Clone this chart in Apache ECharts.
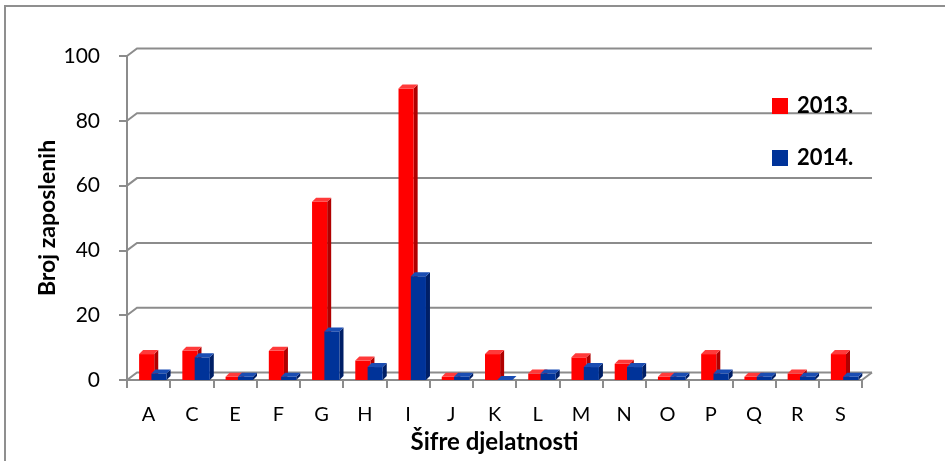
<!DOCTYPE html>
<html>
<head>
<meta charset="utf-8">
<script src="https://cdn.jsdelivr.net/npm/echarts@6/dist/echarts.min.js"></script>
<style>
  html, body { margin: 0; padding: 0; background: #fff; }
  #main { width: 945px; height: 461px; }
</style>
</head>
<body>
<div id="main"></div>
<script>
// šifre djelatnosti
const categories = ["A", "C", "E", "F", "G", "H", "I", "J", "K", "L", "M", "N", "O", "P", "Q", "R", "S"];
const values2013 = [8, 9, 1, 9, 55, 6, 90, 1, 8, 2, 7, 5, 1, 8, 1, 2, 8];
const values2014 = [2, 7, 1, 1, 15, 4, 32, 1, 0, 2, 4, 4, 1, 2, 1, 1, 1];
const yTicks = [0, 20, 40, 60, 80, 100];

const FONT = "Lato";
const GRAY = "#8c8c8c";
const DEPTH = 4; // pseudo 3d dubina stupca
const WALL_DX = 10, WALL_DY = 7.5;

// crta stupac s prednjom, bočnom i gornjom plohom
function bar3d(offset, widthF, colors) {
  return function (params, api) {
    const idx = api.value(0);
    const v = api.value(1);
    const base = api.coord([idx, 0]);
    const top = api.coord([idx, v]);
    const bw = api.size([1, 0])[0];
    const x = base[0] + offset * bw;
    const w = widthF * bw;
    const t = top[1], b = base[1];
    return {
      type: "group",
      children: [
        {
          type: "polygon",
          shape: { points: [[x + w, t], [x + w + DEPTH, t - DEPTH], [x + w + DEPTH, b - DEPTH], [x + w, b]] },
          style: { fill: colors[1] }
        },
        {
          type: "rect",
          shape: { x: x, y: t, width: w, height: b - t },
          style: { fill: colors[0] }
        },
        {
          type: "polygon",
          shape: { points: [[x, t], [x + DEPTH, t - DEPTH], [x + w + DEPTH, t - DEPTH], [x + w, t]] },
          style: { fill: colors[2] }
        }
      ]
    };
  };
}

// linije stražnjeg zida i poda
function wallLine(params, api) {
  const v = api.value(0);
  const bw = api.size([1, 0])[0];
  const left = api.coord([0, v])[0] - bw / 2;
  const right = api.coord([categories.length - 1, v])[0] + bw / 2;
  const y = api.coord([0, v])[1];
  const children = [{
    type: "polyline",
    shape: { points: [[left, y], [left + WALL_DX, y - WALL_DY], [right + WALL_DX, y - WALL_DY]] },
    style: { stroke: GRAY, lineWidth: 2, fill: null }
  }];
  if (v === 0) {
    children.push({
      type: "line",
      shape: { x1: right, y1: y, x2: right + WALL_DX, y2: y - WALL_DY },
      style: { stroke: GRAY, lineWidth: 2 }
    });
  }
  return { type: "group", children: children };
}

const chart = echarts.init(document.getElementById("main"));

const option = {
  animation: false,
  graphic: [{
    type: "rect",
    shape: { x: 5, y: 6, width: 1000, height: 500 },
    style: { fill: null, stroke: "#8f8f8f", lineWidth: 2 },
    z: 0
  }],
  grid: { left: 127, right: 83, top: 56, bottom: 81 },
  legend: {
    data: ["2013.", "2014."],
    orient: "vertical",
    left: 767,
    top: 90,
    itemGap: 30,
    itemWidth: 16,
    itemHeight: 16,
    icon: "rect",
    textStyle: { fontFamily: FONT, fontWeight: "bold", fontSize: 22, color: "#000", padding: [0, 0, 0, 4] }
  },
  xAxis: {
    type: "category",
    data: categories,
    name: "Šifre djelatnosti",
    nameLocation: "middle",
    nameGap: 50,
    nameTextStyle: { fontFamily: FONT, fontWeight: "bold", fontSize: 24, color: "#000" },
    axisLine: { lineStyle: { color: GRAY, width: 2 } },
    axisTick: { show: true, interval: 0, length: 8, lineStyle: { color: GRAY, width: 2 } },
    axisLabel: { fontFamily: FONT, fontSize: 20, color: "#000", margin: 25, interval: 0 },
    splitLine: { show: false }
  },
  yAxis: {
    type: "value",
    min: 0,
    max: 100,
    interval: 20,
    name: "Broj zaposlenih",
    nameLocation: "middle",
    nameGap: 68,
    nameMoveOverlap: false,
    nameTextStyle: { fontFamily: FONT, fontWeight: "bold", fontSize: 23, color: "#000" },
    axisLine: { show: true, lineStyle: { color: GRAY, width: 2 } },
    axisTick: { show: true, length: 8, lineStyle: { color: GRAY, width: 2 } },
    axisLabel: { fontFamily: FONT, fontSize: 21, color: "#000", margin: 27 },
    splitLine: { show: false }
  },
  series: [
    {
      name: "wall",
      type: "custom",
      silent: true,
      z: 1,
      data: yTicks.map(v => [v]),
      encode: { y: 0 },
      renderItem: wallLine
    },
    {
      name: "2013.",
      type: "custom",
      z: 2,
      itemStyle: { color: "#ff0000" },
      data: values2013.map((v, i) => [i, v]),
      encode: { x: 0, y: 1 },
      renderItem: bar3d(-0.22, 0.35, ["#ff0000", "#b00000", "#ff3a3a"])
    },
    {
      name: "2014.",
      type: "custom",
      z: 3,
      itemStyle: { color: "#003399" },
      data: values2014.map((v, i) => [i, v]),
      encode: { x: 0, y: 1 },
      renderItem: bar3d(0.065, 0.35, ["#003399", "#001f66", "#1a4db3"])
    }
  ]
};

chart.setOption(option);
window.onresize = function () {
  chart.resize();
};
</script>
</body>
</html>
